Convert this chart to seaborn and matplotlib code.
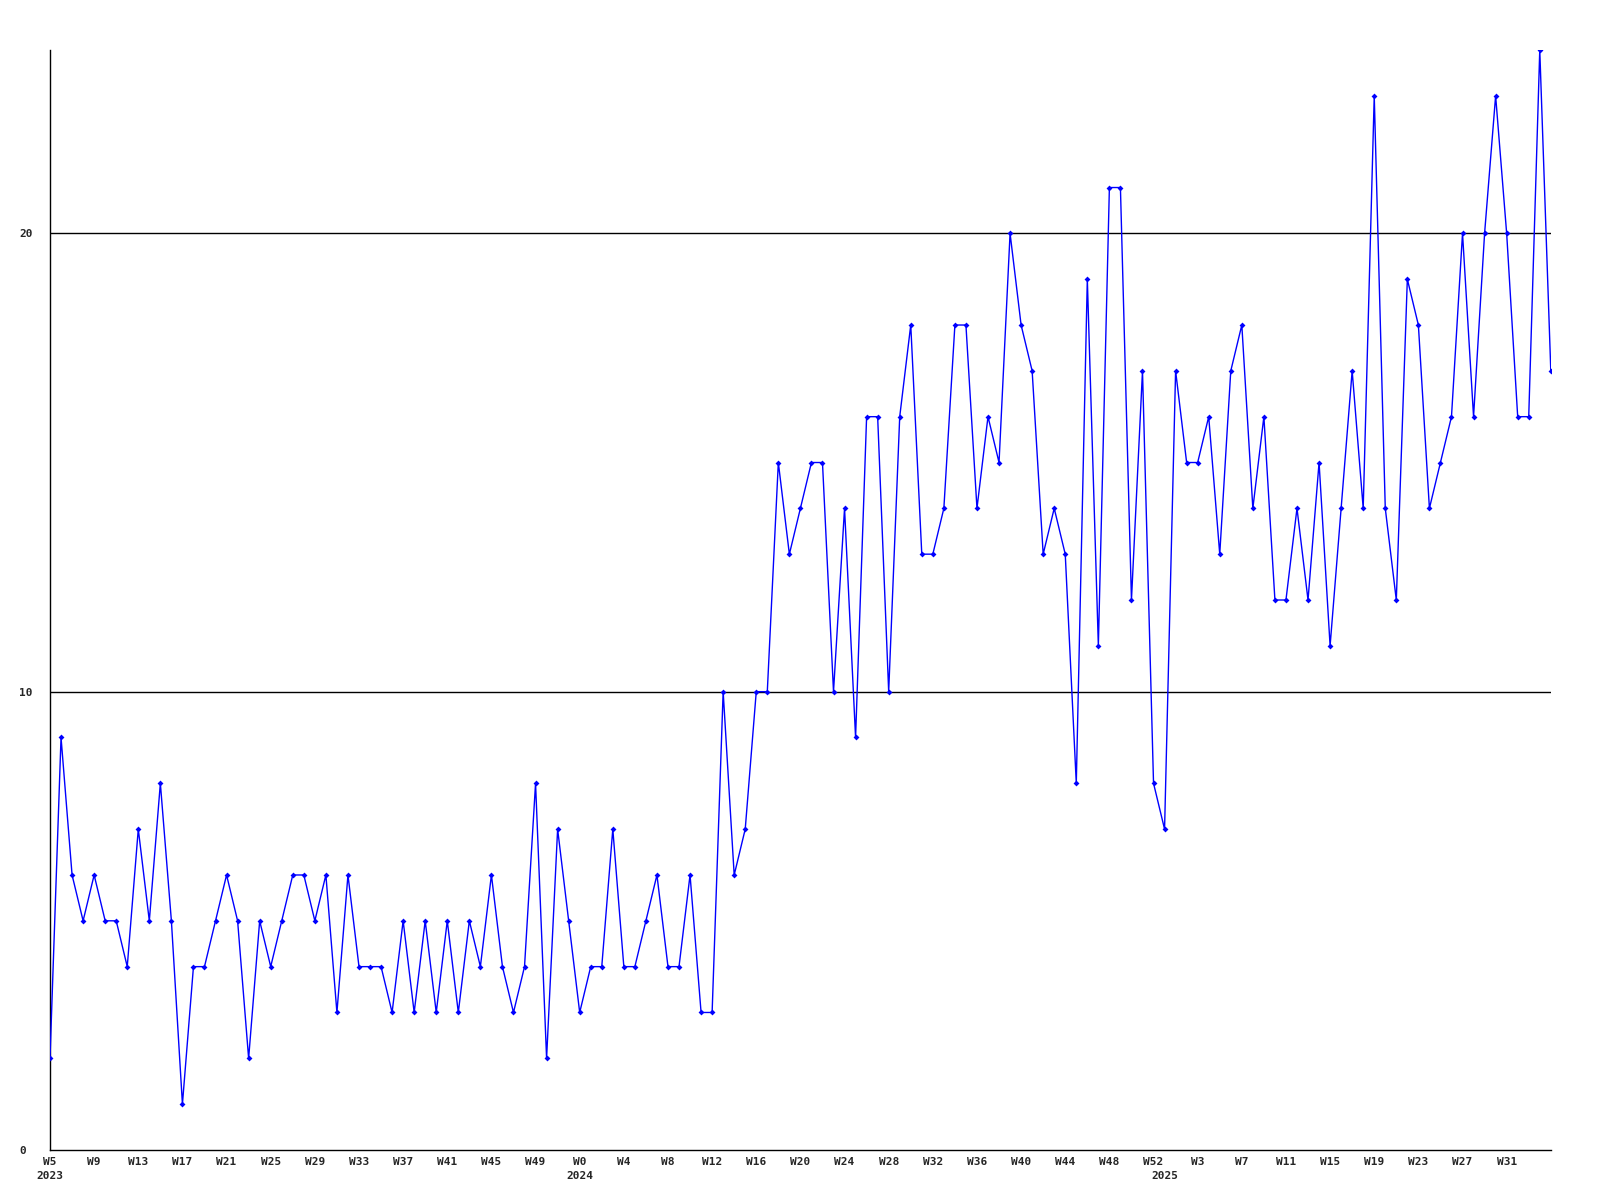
import pandas as pd
import matplotlib
matplotlib.use("Agg")
import matplotlib.pyplot as plt
import seaborn as sns

# weekly counts, W5 2023 -> W35 2025
weeks_2023 = list(range(5, 53))   # W5..W52
weeks_2024 = list(range(0, 53))   # W0..W52
weeks_2025 = list(range(0, 36))   # W0..W35

counts = [
    2, 9, 6, 5, 6, 5, 5, 4, 7, 5, 8, 5, 1, 4, 4, 5, 6, 5, 2, 5,
    4, 5, 6, 6, 5, 6, 3, 6, 4, 4, 4, 3, 5, 3, 5, 3, 5, 3, 5, 4,
    6, 4, 3, 4, 8, 2, 7, 5, 3, 4, 4, 7, 4, 4, 5, 6, 4, 4, 6, 3,
    3, 10, 6, 7, 10, 10, 15, 13, 14, 15, 15, 10, 14, 9, 16, 16, 10, 16, 18, 13,
    13, 14, 18, 18, 14, 16, 15, 20, 18, 17, 13, 14, 13, 8, 19, 11, 21, 21, 12, 17,
    8, 7, 17, 15, 15, 16, 13, 17, 18, 14, 16, 12, 12, 14, 12, 15, 11, 14, 17, 14,
    23, 14, 12, 19, 18, 14, 15, 16, 20, 16, 20, 23, 20, 16, 16, 24, 17,
]

years = [2023] * len(weeks_2023) + [2024] * len(weeks_2024) + [2025] * len(weeks_2025)
weeks = weeks_2023 + weeks_2024 + weeks_2025

df = pd.DataFrame({"idx": range(len(counts)), "count": counts, "year": years, "week": weeks})

sns.set_style("white")
plt.rcParams["font.family"] = ["DejaVu Sans Mono"]

fig = plt.figure(figsize=(16, 12), dpi=100)
ax = fig.add_axes([0.03125, 0.0417, 0.938, 0.9166])

for g in [10, 20]:
    ax.axhline(g, color="black", lw=1, zorder=1)

sns.lineplot(x="idx", y="count", data=df, color="#0000ff", lw=1,
             marker="D", markersize=3, markeredgewidth=0, ax=ax, zorder=3)

ax.set_xlim(0, len(counts) - 1)
ax.set_ylim(0, 24)
ax.set_xlabel("")
ax.set_ylabel("")

# x ticks every 4 weeks (the last, unfinished stretch gets no label)
tick_pos = list(range(0, len(counts) - 4, 4))
ax.set_xticks(tick_pos)
ax.set_xticklabels([f"W{df['week'][i]}" for i in tick_pos], fontsize=8,
                   fontweight="bold")
ax.tick_params(axis="x", length=0, pad=5)
for lab in ax.get_xticklabels():
    lab.set_x(lab.get_position()[0])

ax.set_yticks([0, 10, 20])
ax.set_yticklabels(["0", "10", "20"], fontsize=8, fontweight="bold")
ax.tick_params(axis="y", length=0, pad=22)
for lab in ax.get_yticklabels():
    lab.set_horizontalalignment("left")

# year labels under the first week of each year
for yr in [2023, 2024, 2025]:
    first = df.index[df["year"] == yr][0]
    ax.annotate(str(yr), xy=(first, 0), xycoords=("data", "axes fraction"),
                xytext=(0, -19), textcoords="offset points",
                ha="center", va="center", fontsize=8, fontweight="bold")

for side in ["top", "right"]:
    ax.spines[side].set_visible(False)
for side in ["left", "bottom"]:
    ax.spines[side].set_color("black")
    ax.spines[side].set_linewidth(1)

plt.savefig("out.png", dpi=100)
